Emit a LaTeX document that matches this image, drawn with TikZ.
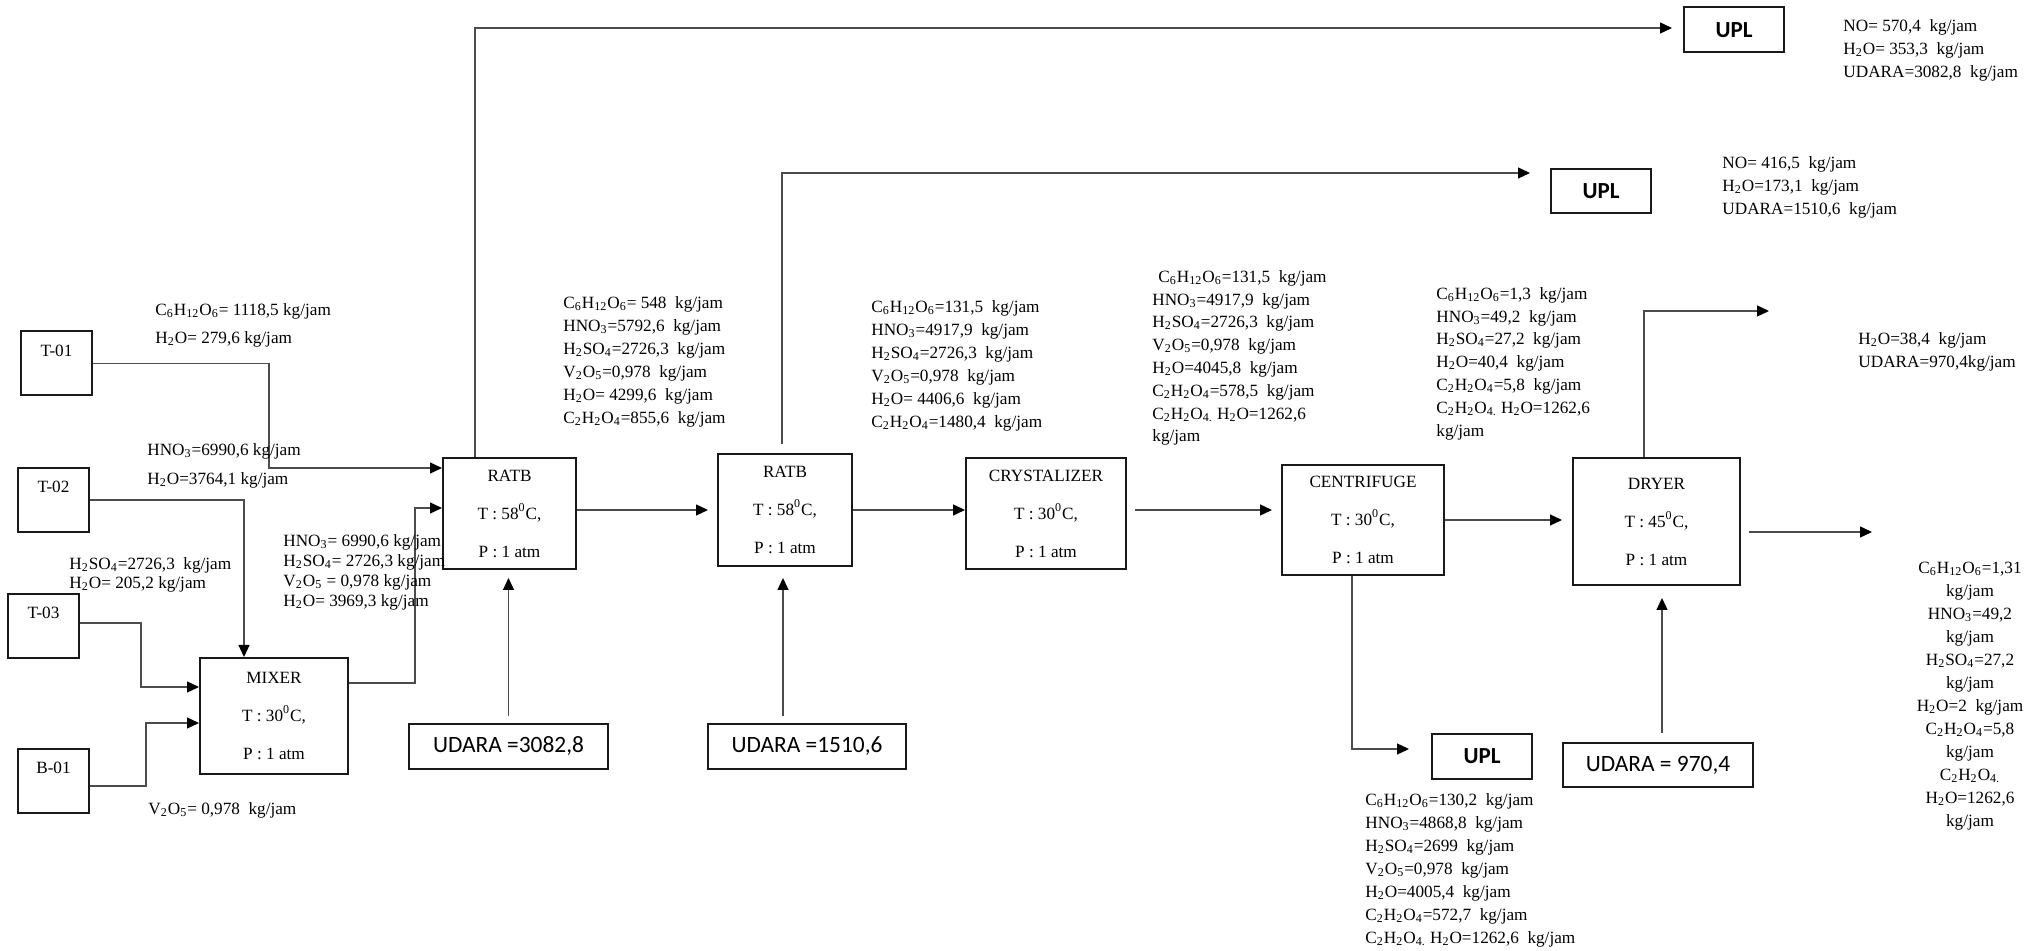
\documentclass[tikz,border=0pt]{standalone}
\usepackage{fontspec}
\setmainfont{Liberation Serif}
\newfontfamily\calib{Carlito}
\usetikzlibrary{arrows.meta}
\newcommand\sbs[1]{\textsubscript{#1}}
\newcommand\dg{\textsuperscript{0}}
\newcommand\glu{C\sbs{6}H\sbs{12}O\sbs{6}}
\newcommand\hno{HNO\sbs{3}}
\newcommand\hso{H\sbs{2}SO\sbs{4}}
\newcommand\vo{V\sbs{2}O\sbs{5}}
\newcommand\ho{H\sbs{2}O}
\newcommand\ox{C\sbs{2}H\sbs{2}O\sbs{4}}
\newcommand\oxd{C\sbs{2}H\sbs{2}O\sbs{4.}}
\tikzset{
  proc/.style={draw=black!90, line width=1pt, align=center, inner sep=0pt, font=\fontsize{8.6}{19}\selectfont},
  tank/.style={draw=black!90, line width=1pt, minimum width=35.5pt, minimum height=32pt, inner sep=0pt},
  tlab/.style={anchor=north, inner sep=0pt, yshift=-7pt, font=\fontsize{8.6}{10}\selectfont},
  upl/.style={draw=black!90, line width=1pt, minimum width=50pt, minimum height=22.5pt, inner sep=0pt, font=\calib\bfseries\fontsize{11.5}{13}\selectfont},
  udara/.style={draw=black!90, line width=1pt, minimum height=22.5pt, inner sep=0pt, font=\calib\fontsize{11.7}{14}\selectfont},
  conn/.style={draw=black!70, line width=0.65pt, -{Triangle[length=6pt,width=5.5pt,color=black]}},
  lbl/.style={anchor=north west, inner sep=0pt, align=left, font=\fontsize{8.6}{11.5}\selectfont},
}
\begin{document}
\begin{tikzpicture}[x=0.5pt, y=-0.5pt]
\fill[white] (0,0) rectangle (2041,951);
\useasboundingbox (0,0) rectangle (2041,951);

% feed tanks
\node[tank, label={[tlab]north:T-01}] (t01) at (56.5,363.5) {};
\node[tank, label={[tlab]north:T-02}] (t02) at (53.5,500) {};
\node[tank, label={[tlab]north:T-03}] (t03) at (43.5,626) {};
\node[tank, label={[tlab]north:B-01}] (b01) at (53.5,781) {};

% process units
\node[proc, minimum width=74pt, minimum height=58pt] (mixer) at (274,716) {MIXER\\T : 30\dg C,\\P : 1 atm};
\node[proc, minimum width=66.5pt, minimum height=55.5pt] (ratb1) at (509.5,513.5) {RATB\\T : 58\dg C,\\P : 1 atm};
\node[proc, minimum width=67pt, minimum height=56pt] (ratb2) at (785,510) {RATB\\T : 58\dg C,\\P : 1 atm};
\node[proc, minimum width=80pt, minimum height=55.5pt] (cryst) at (1046,513.5) {CRYSTALIZER\\T : 30\dg C,\\P : 1 atm};
\node[proc, minimum width=81pt, minimum height=55pt] (centr) at (1363,520) {CENTRIFUGE\\T : 30\dg C,\\P : 1 atm};
\node[proc, minimum width=83.5pt, minimum height=63.5pt] (dryer) at (1656.5,521.5) {DRYER\\T : 45\dg C,\\P : 1 atm};

% waste units
\node[upl] (upl1) at (1734,30) {UPL};
\node[upl, minimum height=22pt] (upl2) at (1601,191) {UPL};
\node[upl] (upl3) at (1482,756.5) {UPL};

% air feeds
\node[udara, minimum width=99.5pt] (ud1) at (508.5,746.5) {UDARA =3082,8};
\node[udara, minimum width=99pt] (ud2) at (807,746.5) {UDARA =1510,6};
\node[udara, minimum width=95pt, minimum height=22pt] (ud3) at (1658,765) {UDARA = 970,4};

\coordinate (dout1) at (1769,311);
\coordinate (dout2) at (1872,532);

% connectors
\draw[conn] (t01.east) -- ++(176,0) |- ([yshift=22.75pt]ratb1.west);
\draw[conn] (t02.east) -| ([xshift=-15pt]mixer.north);
\draw[conn] ([yshift=1.5pt]t03.east) -- ++(61,0) |- ([yshift=14.5pt]mixer.west);
\draw[conn] ([yshift=-2.5pt]b01.east) -- ++(56,0) |- ([yshift=-3.5pt]mixer.west);
\draw[conn] ([yshift=16.5pt]mixer.east) -- ++(66,0) |- ([yshift=2.75pt]ratb1.west);
\draw[conn, shorten >=5.5pt] ([xshift=-17.25pt]ratb1.north) |- ([yshift=1pt]upl1.west);
\draw[conn, shorten <=4.5pt, shorten >=10pt] ([xshift=-1.5pt]ratb2.north) |- ([yshift=9pt]upl2.west);
\draw[conn, shorten >=4.5pt] (ratb1.east |- ratb2.west) -- (ratb2.west);
\draw[conn] (ratb2.east) -- (cryst.west |- ratb2.east);
\draw[conn, shorten <=4pt, shorten >=4.5pt] (cryst.east |- ratb2.east) -- (centr.west |- ratb2.east);
\draw[conn, shorten >=5pt] (centr.east) -- (centr.east -| dryer.west);
\draw[conn] ([xshift=-6.25pt]dryer.north) |- (dout1);
\draw[conn, shorten <=4pt] (dryer.east |- dout2) -- (dout2);
\draw[conn, shorten >=11pt] ([xshift=-5.5pt]centr.south) |- ([yshift=3.75pt]upl3.west);
\draw[conn, shorten <=3.5pt, shorten >=4pt] (ud1.north) -- (ud1.north |- ratb1.south);
\draw[conn, shorten <=3.5pt, shorten >=5.5pt] ([xshift=-12pt]ud2.north) -- ([xshift=-12pt]ud2.north |- ratb2.south);
\draw[conn, shorten <=4.5pt, shorten >=6pt] ([xshift=2pt]ud3.north) -- ([xshift=2pt]ud3.north |- dryer.south);

% stream labels
\node[lbl, font=\fontsize{8.6}{14}\selectfont] (l1) at (155,303) {\glu= 1118,5 kg/jam\\\ho= 279,6 kg/jam};
\node[lbl, font=\fontsize{8.6}{14.5}\selectfont] (l2) at (147,443) {\hno=6990,6 kg/jam\\\ho=3764,1 kg/jam};
\node[lbl, font=\fontsize{8.6}{9.5}\selectfont] (l3) at (69,557) {\hso=2726,3~ kg/jam\\\ho= 205,2 kg/jam};
\node[lbl, font=\fontsize{8.6}{10}\selectfont] (l4) at (283,534) {\hno= 6990,6 kg/jam\\\hso= 2726,3 kg/jam\\\vo{} = 0,978 kg/jam\\\ho= 3969,3 kg/jam};
\node[lbl] (l5) at (148,802) {\vo= 0,978~ kg/jam};
\node[lbl] (l6) at (563,296) {\glu= 548~ kg/jam\\\hno=5792,6~ kg/jam\\\hso=2726,3~ kg/jam\\\vo=0,978~ kg/jam\\\ho= 4299,6~ kg/jam\\\ox=855,6~ kg/jam};
\node[lbl] (l7) at (871,300) {\glu=131,5~ kg/jam\\\hno=4917,9~ kg/jam\\\hso=2726,3~ kg/jam\\\vo=0,978~ kg/jam\\\ho= 4406,6~ kg/jam\\\ox=1480,4~ kg/jam};
\node[lbl, font=\fontsize{8.6}{11.4}\selectfont] (l8) at (1152,270) {\hspace{3pt}\glu=131,5~ kg/jam\\\hno=4917,9~ kg/jam\\\hso=2726,3~ kg/jam\\\vo=0,978~ kg/jam\\\ho=4045,8~ kg/jam\\\ox=578,5~ kg/jam\\\oxd{} \ho=1262,6\\kg/jam};
\node[lbl, font=\fontsize{8.6}{11.4}\selectfont] (l9) at (1436,287) {\glu=1,3~ kg/jam\\\hno=49,2~ kg/jam\\\hso=27,2~ kg/jam\\\ho=40,4~ kg/jam\\\ox=5,8~ kg/jam\\\oxd{} \ho=1262,6\\kg/jam};
\node[lbl] (l10) at (1858,332) {\ho=38,4~ kg/jam\\UDARA=970,4kg/jam};
\node[lbl, anchor=north, align=center] (l11) at (1970,562) {\glu=1,31\\kg/jam\\\hno=49,2\\kg/jam\\\hso=27,2\\kg/jam\\\ho=2~ kg/jam\\\ox=5,8\\kg/jam\\\oxd\\\ho=1262,6\\kg/jam};
\node[lbl] (l12) at (1843,19) {NO= 570,4~ kg/jam\\\ho= 353,3~ kg/jam\\UDARA=3082,8~ kg/jam};
\node[lbl] (l13) at (1722,156) {NO= 416,5~ kg/jam\\\ho=173,1~ kg/jam\\UDARA=1510,6~ kg/jam};
\node[lbl] (l14) at (1365,793) {\glu=130,2~ kg/jam\\\hno=4868,8~ kg/jam\\\hso=2699~ kg/jam\\\vo=0,978~ kg/jam\\\ho=4005,4~ kg/jam\\\ox=572,7~ kg/jam\\\oxd{} \ho=1262,6~ kg/jam};
\end{tikzpicture}
\end{document}
